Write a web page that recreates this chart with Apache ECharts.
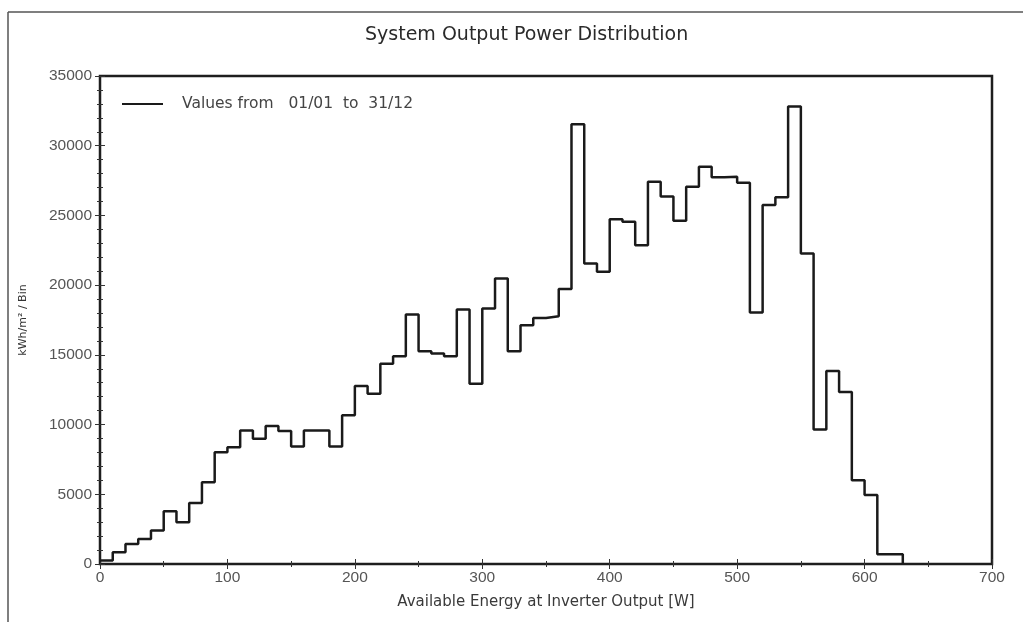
<!DOCTYPE html>
<html>
<head>
<meta charset="utf-8">
<script src="https://cdn.jsdelivr.net/npm/echarts@6/dist/echarts.min.js"></script>
<style>html,body{margin:0;padding:0;background:#fff}#c{width:1023px;height:622px}</style>
</head>
<body>
<div id="c"></div>
<script>
// Bin start positions [W] (bin width 10 W)
const binStart = [0,10,20,30,40,50,60,70,80,90,100,110,120,130,140,150,160,170,180,190,
  200,210,220,230,240,250,260,270,280,290,300,310,320,330,340,350,360,370,380,390,
  400,410,420,430,440,450,460,470,480,490,500,510,520,530,540,550,560,570,580,590,
  600,610,620];
// Energy per bin [kWh/m² / Bin]
const binValues = [250,840,1440,1800,2400,3780,3000,4380,5870,8020,
  8380,9580,8980,9890,9530,8430,9580,9580,8430,10660,
  12770,12210,14370,14900,17890,15260,15090,14900,18250,12930,
  18320,20480,15260,17120,17650,17770,19730,31540,21560,20960,
  24720,24550,22870,27420,26350,24620,27060,28500,27730,27780,
  27350,18030,25750,26300,32810,22270,9650,13840,12330,6000,
  4950,700,700];
const binEnd = 630;
const xTicks = [0,100,200,300,400,500,600,700];
const yTicks = [0,5000,10000,15000,20000,25000,30000,35000];
const legendLabel = 'Values from   01/01  to  31/12';

const pts = binStart.map((x, i) => [x, binValues[i]]);
pts.push([binEnd, 0]);

const chart = echarts.init(document.getElementById('c'), null, {renderer: 'canvas'});
const font = 'Liberation Sans, Arial, sans-serif';
const wide = 'DejaVu Sans, Verdana, sans-serif';
const lblColor = '#555';
const axisCommon = {
  axisLine: {show: false},
  splitLine: {show: false},
  axisTick: {show: true, inside: true, length: 5, lineStyle: {color: '#333', width: 1}},
  minorTick: {show: true, length: 3, lineStyle: {color: '#333', width: 1}}
};
chart.setOption({
  backgroundColor: '#ffffff',
  animation: false,
  title: {
    text: 'System Output Power Distribution',
    left: 360, top: 21,
    textStyle: {fontFamily: wide, fontSize: 19, fontWeight: 'normal', color: '#2a2a2a'}
  },
  legend: {
    show: true, left: 122, top: 96, padding: 0,
    itemWidth: 41, itemHeight: 2,
    textStyle: {fontFamily: wide, fontSize: 15.5, color: '#444', padding: [0, 0, 0, 14]},
    data: [{name: legendLabel, icon: 'rect', itemStyle: {color: '#1a1a1a'}}]
  },
  grid: {left: 100, top: 76, right: 31, bottom: 58, show: true, borderColor: '#1e1e1e', borderWidth: 2.5, backgroundColor: 'transparent'},
  xAxis: [
    Object.assign({}, axisCommon, {
      type: 'value', min: xTicks[0], max: xTicks[xTicks.length-1], interval: 100,
      minorTick: Object.assign({}, axisCommon.minorTick, {splitNumber: 2}),
      name: 'Available Energy at Inverter Output [W]', nameLocation: 'middle', nameGap: 31,
      nameTextStyle: {fontFamily: wide, fontSize: 15, color: '#3a3a3a'},
      axisLabel: {fontFamily: font, fontSize: 15.5, color: lblColor, margin: 6}
    }),
    Object.assign({}, axisCommon, {
      type: 'value', position: 'top', min: xTicks[0], max: xTicks[xTicks.length-1], interval: 100,
      minorTick: Object.assign({}, axisCommon.minorTick, {splitNumber: 2}),
      axisLabel: {show: false}
    })
  ],
  yAxis: [
    Object.assign({}, axisCommon, {
      type: 'value', min: yTicks[0], max: yTicks[yTicks.length-1], interval: 5000,
      minorTick: Object.assign({}, axisCommon.minorTick, {splitNumber: 5}),
      name: 'kWh/m² / Bin', nameLocation: 'middle', nameGap: 71, nameRotate: 90,
      nameTextStyle: {fontFamily: wide, fontSize: 11, color: '#333'},
      axisLabel: {fontFamily: font, fontSize: 15.5, color: lblColor, margin: 8,
        formatter: v => String(v)}
    }),
    Object.assign({}, axisCommon, {
      type: 'value', position: 'right', min: yTicks[0], max: yTicks[yTicks.length-1], interval: 5000,
      minorTick: Object.assign({}, axisCommon.minorTick, {splitNumber: 5}),
      axisLabel: {show: false}
    })
  ],
  graphic: [
    {type: 'line', shape: {x1: 8, y1: 12, x2: 1023, y2: 12}, style: {stroke: '#555', lineWidth: 1.5}, silent: true},
    {type: 'line', shape: {x1: 8, y1: 12, x2: 8, y2: 622}, style: {stroke: '#555', lineWidth: 1.5}, silent: true}
  ],
  series: [{
    name: legendLabel,
    type: 'line', step: 'end', data: pts,
    xAxisIndex: 0, yAxisIndex: 0,
    showSymbol: false, symbol: 'none',
    lineStyle: {color: '#1a1a1a', width: 2.5},
    itemStyle: {color: '#1a1a1a'}
  }]
});
</script>
</body>
</html>
